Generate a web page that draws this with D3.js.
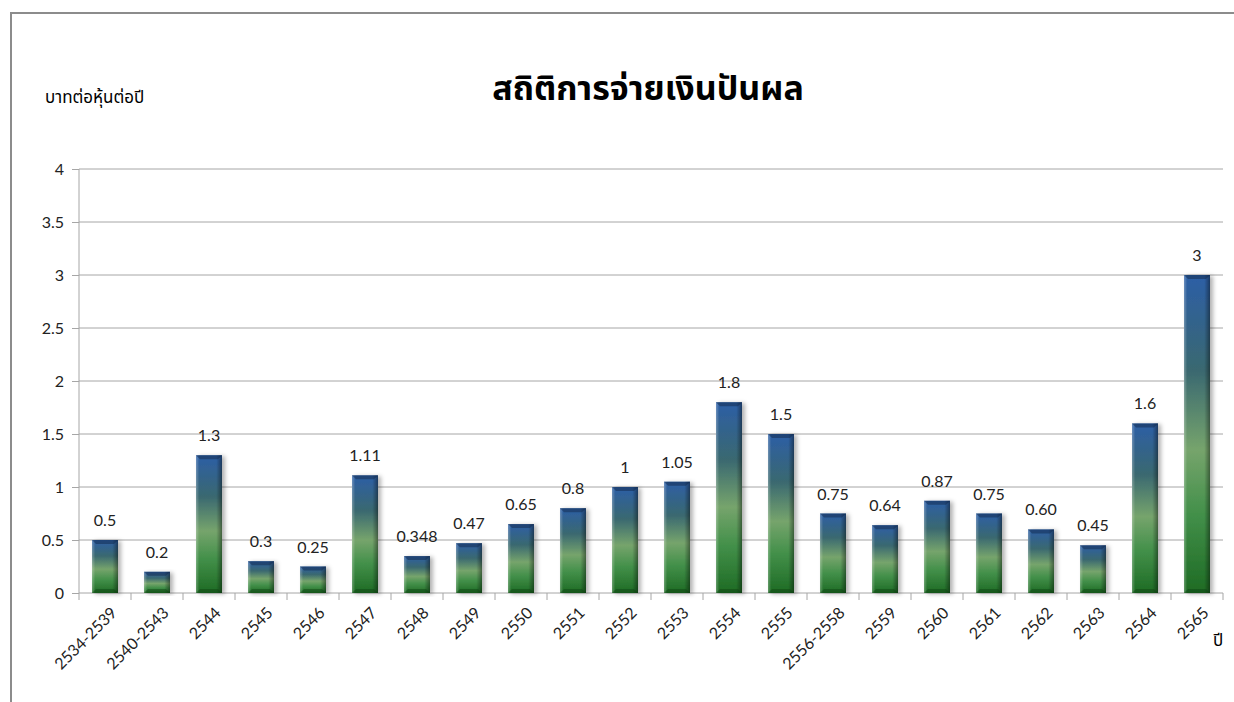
<!DOCTYPE html>
<meta charset="utf-8">
<style>
body { margin: 0; background: #fff; }
svg { display: block; }
.grid line { stroke: #a6a6a6; stroke-width: 1; }
.axis path, .axis line { stroke: #a6a6a6; }
.axis text { font-family: Lato, "Open Sans", sans-serif; font-size: 16px; fill: #222; }
.val { font-family: Lato, "Open Sans", sans-serif; font-size: 16px; fill: #222; }
.thai { font-family: "Noto Sans Thai", "Noto Sans", "DejaVu Sans", sans-serif; fill: #000; }
</style>
<svg width="1234" height="702"></svg>
<script src="https://cdn.jsdelivr.net/npm/d3@7"></script>
<script>
var years = ["2534-2539", "2540-2543", "2544", "2545", "2546", "2547", "2548", "2549", "2550", "2551",
             "2552", "2553", "2554", "2555", "2556-2558", "2559", "2560", "2561", "2562", "2563", "2564", "2565"];
var dividends = [0.5, 0.2, 1.3, 0.3, 0.25, 1.11, 0.348, 0.47, 0.65, 0.8,
                 1, 1.05, 1.8, 1.5, 0.75, 0.64, 0.87, 0.75, 0.60, 0.45, 1.6, 3];
var valueLabels = ["0.5", "0.2", "1.3", "0.3", "0.25", "1.11", "0.348", "0.47", "0.65", "0.8",
                   "1", "1.05", "1.8", "1.5", "0.75", "0.64", "0.87", "0.75", "0.60", "0.45", "1.6", "3"];
var yTicks = [0, 0.5, 1, 1.5, 2, 2.5, 3, 3.5, 4];

var svg = d3.select("svg");
var x0 = 79, x1 = 1223, yTop = 169, yBot = 593;

var x = d3.scaleBand().domain(years).range([x0, x1]).paddingInner(0.5).paddingOuter(0.25);
var y = d3.scaleLinear().domain([0, 4]).range([yBot, yTop]);

// chart frame
svg.append("path")
    .attr("d", "M11,702 L11,13 L1234,13")
    .attr("fill", "none")
    .attr("stroke", "#8c8c8c")
    .attr("stroke-width", 2);

var defs = svg.append("defs");
var grad = defs.append("linearGradient").attr("id", "barFill")
    .attr("x1", 0).attr("y1", 0).attr("x2", 0).attr("y2", 1);
[["0%", "#2c5fa6"], ["30%", "#3a6870"], ["55%", "#76a46c"], ["75%", "#43904a"], ["100%", "#1e6b24"]]
  .forEach(function(s) { grad.append("stop").attr("offset", s[0]).attr("stop-color", s[1]); });

var side = defs.append("linearGradient").attr("id", "barSide")
    .attr("x1", 0).attr("y1", 0).attr("x2", 1).attr("y2", 0);
[["0%", "#ffffff", 0.3], ["12%", "#ffffff", 0.0], ["78%", "#000000", 0.0], ["100%", "#000000", 0.4]]
  .forEach(function(s) { side.append("stop").attr("offset", s[0]).attr("stop-color", s[1]).attr("stop-opacity", s[2]); });

var shadow = defs.append("filter").attr("id", "shadow")
    .attr("x", "-30%").attr("y", "-10%").attr("width", "160%").attr("height", "120%");
shadow.append("feDropShadow").attr("dx", 3).attr("dy", 1).attr("stdDeviation", 2)
    .attr("flood-color", "#000").attr("flood-opacity", 0.3);

// gridlines
svg.append("g").attr("class", "grid")
  .selectAll("line")
  .data(yTicks.filter(function(d) { return d > 0; }))
  .enter().append("line")
    .attr("x1", x0).attr("x2", x1)
    .attr("y1", function(d) { return y(d); })
    .attr("y2", function(d) { return y(d); });

// y axis
var yAxis = svg.append("g").attr("class", "axis")
    .attr("transform", "translate(" + x0 + ",0)")
    .call(d3.axisLeft(y).tickValues(yTicks).tickSize(7).tickPadding(8)
      .tickFormat(function(d) { return String(d); }));
yAxis.select(".domain").attr("d", "M0," + yTop + "V" + yBot);

// x axis with ticks between categories
var xAxis = svg.append("g").attr("class", "axis")
    .attr("transform", "translate(0," + yBot + ")");
xAxis.append("line").attr("x1", x0).attr("x2", x1).attr("y1", 0).attr("y2", 0);
var step = x.step();
xAxis.selectAll(".tk")
  .data(d3.range(years.length + 1))
  .enter().append("line")
    .attr("class", "tk")
    .attr("x1", function(i) { return x0 + i * step; })
    .attr("x2", function(i) { return x0 + i * step; })
    .attr("y1", 0).attr("y2", 7);
xAxis.selectAll("text")
  .data(years)
  .enter().append("text")
    .attr("text-anchor", "end")
    .attr("transform", function(d) {
      return "translate(" + (x(d) + x.bandwidth() / 2 + 5) + ",13) rotate(-45)";
    })
    .attr("dy", "0.7em")
    .text(function(d) { return d; });

// bars
var bars = svg.append("g").selectAll("g")
  .data(years)
  .enter().append("g");
bars.append("rect")
    .attr("x", function(d) { return x(d); })
    .attr("y", function(d, i) { return y(dividends[i]); })
    .attr("width", x.bandwidth())
    .attr("height", function(d, i) { return yBot - y(dividends[i]); })
    .attr("fill", "url(#barFill)")
    .attr("filter", "url(#shadow)");
bars.append("rect")
    .attr("x", function(d) { return x(d); })
    .attr("y", function(d, i) { return y(dividends[i]); })
    .attr("width", x.bandwidth())
    .attr("height", function(d, i) { return yBot - y(dividends[i]); })
    .attr("fill", "url(#barSide)");
// bevel top and bottom
bars.append("path")
    .attr("d", function(d, i) {
      var l = x(d), r = l + x.bandwidth(), t = y(dividends[i]);
      return "M" + l + "," + t + "L" + r + "," + t + "L" + (r - 4) + "," + (t + 4) + "L" + (l + 4) + "," + (t + 4) + "Z";
    })
    .attr("fill", "#0f2440").attr("opacity", 0.45);
bars.append("path")
    .attr("d", function(d, i) {
      var l = x(d), r = l + x.bandwidth(), b = yBot;
      return "M" + l + "," + b + "L" + r + "," + b + "L" + (r - 4) + "," + (b - 4) + "L" + (l + 4) + "," + (b - 4) + "Z";
    })
    .attr("fill", "#0d4012").attr("opacity", 0.45);

// value labels
svg.append("g").selectAll("text")
  .data(years)
  .enter().append("text")
    .attr("class", "val")
    .attr("text-anchor", "middle")
    .attr("x", function(d) { return x(d) + x.bandwidth() / 2; })
    .attr("y", function(d, i) { return y(dividends[i]) - 14; })
    .text(function(d, i) { return valueLabels[i]; });

// titles
svg.append("text").attr("class", "thai")
    .attr("x", 648).attr("y", 100)
    .attr("text-anchor", "middle")
    .attr("font-size", 34).attr("font-weight", "bold")
    .text("สถิติการจ่ายเงินปันผล");
svg.append("text").attr("class", "thai")
    .attr("x", 45).attr("y", 103)
    .attr("font-size", 17)
    .text("บาทต่อหุ้นต่อปี");
svg.append("text").attr("class", "thai")
    .attr("x", 1213).attr("y", 646)
    .attr("font-size", 17)
    .text("ปี");
</script>
